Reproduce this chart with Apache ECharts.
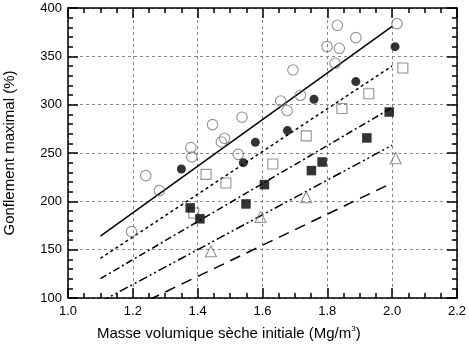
<!DOCTYPE html>
<html><head><meta charset="utf-8">
<script src="https://cdn.jsdelivr.net/npm/echarts@6/dist/echarts.min.js"></script>
<style>html,body{margin:0;padding:0;background:#fff}#c{width:469px;height:344px}</style>
</head><body><div id="c"></div>
<script>
// tick labels
const xTicks = [1.0, 1.2, 1.4, 1.6, 1.8, 2.0, 2.2];
const yTicks = [100, 150, 200, 250, 300, 350, 400];
// open circles
const openCircles = [[1.196,168.7],[1.240,226.6],[1.282,211.1],[1.379,255.6],[1.382,245.9],[1.446,279.4],[1.473,261.4],[1.483,265.2],[1.525,248.6],[1.537,287],[1.656,303.8],[1.676,293.9],[1.694,335.9],[1.717,309.7],[1.799,360],[1.824,342.8],[1.831,382.1],[1.837,358.3],[1.888,369.4],[2.015,383.8]];
// filled circles
const filledCircles = [[1.350,233.4],[1.541,240],[1.578,261],[1.677,273.2],[1.759,305.6],[1.888,323.9],[2.009,360]];
// open squares
const openSquares = [[1.388,188],[1.426,227.9],[1.487,219],[1.632,238.6],[1.735,267.7],[1.845,296],[1.928,311.3],[2.033,338]];
// filled squares
const filledSquares = [[1.377,193.2],[1.407,181.9],[1.549,197.3],[1.606,217.3],[1.751,231.8],[1.784,240.7],[1.922,265.6],[1.991,292.4]];
// open triangles
const openTriangles = [[1.441,148.3],[1.594,183.9],[1.735,204.2],[2.011,244.6]];
// fitted lines
const lineSolid = [[1.1,164],[2.0,381]];
const lineDotted = [[1.1,141],[2.0,340]];
const lineDashDot = [[1.1,120],[2.0,297]];
const lineDashDotDot = [[1.1,96],[2.0,258]];
const lineDashed = [[1.1,74],[2.0,219]];

const FONT = 'Liberation Sans, Arial, sans-serif';
const chart = echarts.init(document.getElementById('c'));
function xAx(pos, labels){
  return {type:'value', position:pos, min:xTicks[0], max:xTicks[xTicks.length-1], interval:0.2,
    axisLine:{show:true, lineStyle:{color:'#000', width:1.5}},
    axisTick:{show:true, inside:true, length:10, lineStyle:{color:'#000', width:1.5}},
    minorTick:{show:true, splitNumber:4, length:5, lineStyle:{color:'#000', width:1.5}},
    splitLine:{show:labels, lineStyle:{color:'#888', type:[3,3], width:1}},
    axisLabel:{show:labels, color:'#000', fontSize:13, fontFamily:FONT, margin:7,
      formatter: v => v.toFixed(1)}};
}
function yAx(pos, labels){
  return {type:'value', position:pos, min:yTicks[0], max:yTicks[yTicks.length-1], interval:50,
    axisLine:{show:true, lineStyle:{color:'#000', width:1.5}},
    axisTick:{show:true, inside:true, length:10, lineStyle:{color:'#000', width:1.5}},
    minorTick:{show:true, splitNumber:5, length:5, lineStyle:{color:'#000', width:1.5}},
    splitLine:{show:labels, lineStyle:{color:'#888', type:[3,3], width:1}},
    axisLabel:{show:labels, color:'#000', fontSize:13, fontFamily:FONT, margin:6}};
}
function lineS(data, type){
  return {type:'line', data:data, symbol:'none', silent:true,
    clip:true, lineStyle:{color:'#000', width:1.5, type:type}, z:2};
}
function scat(data, symbol, size, filled){
  return {type:'scatter', data:data, symbol:symbol, symbolSize:size, z:3,
    itemStyle: filled ? {color:'#000'} : {color:'rgba(0,0,0,0)', borderColor:'#777', borderWidth:1.1}};
}
chart.setOption({
  animation:false,
  grid:{left:68, right:10, top:8, bottom:46},
  xAxis:[xAx('bottom', true), xAx('top', false)],
  yAxis:[yAx('left', true), yAx('right', false)],
  graphic:[
    {type:'text', left:97, top:325, style:{
      text:'{a|Masse volumique sèche initiale (Mg/m}{s|3}{a|)}', rich:{
        a:{fontSize:15, fontFamily:FONT, fill:'#000', lineHeight:17},
        s:{fontSize:8, fontFamily:FONT, fill:'#000', verticalAlign:'top', lineHeight:17, padding:[0,0,7,0]}}}},
    {type:'text', x:10, y:153, rotation:Math.PI/2, style:{
      text:'Gonflement maximal (%)', fontSize:15, fontFamily:FONT, fill:'#000', align:'center', verticalAlign:'middle'}}
  ],
  series:[
    lineS(lineSolid, 'solid'),
    lineS(lineDotted, [3,3]),
    lineS(lineDashDot, [7,3,2,3]),
    lineS(lineDashDotDot, [9,3,2,3,2,3]),
    lineS(lineDashed, [11,7]),
    scat(openCircles, 'circle', 10.5, false),
    scat(filledCircles, 'circle', 9, true),
    scat(openSquares, 'rect', 10, false),
    scat(filledSquares, 'rect', 9.5, true),
    scat(openTriangles, 'triangle', 11, false)
  ]
});
</script></body></html>
